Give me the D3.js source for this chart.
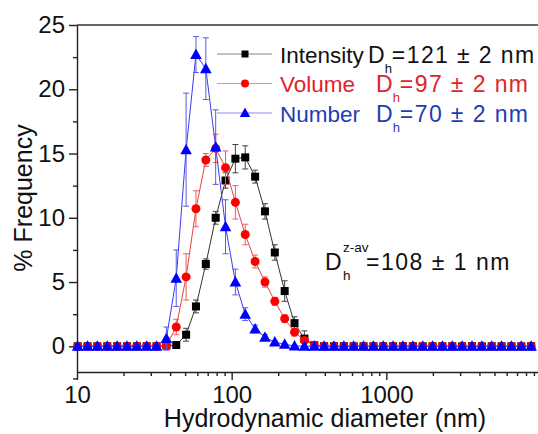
<!DOCTYPE html>
<html>
<head>
<meta charset="utf-8">
<script src="https://cdn.jsdelivr.net/npm/d3@7"></script>
<style>
  html, body { margin: 0; padding: 0; background: #fff; }
  svg { display: block; font-family: "Liberation Sans", Arial, sans-serif; }
  .axis path, .axis line { stroke: #222; stroke-width: 1.4; }
  .axis text { font-size: 24px; fill: #111; font-family: "Liberation Sans", Arial, sans-serif; }
</style>
</head>
<body>
<div id="chart"></div>
<script>
// size bins (nm)
const sizes = [10.1, 11.7, 13.54, 15.69, 18.17, 21.04, 24.36, 28.21, 32.67, 37.84, 43.82, 50.75, 58.77, 68.06,
  78.82, 91.28, 105.7, 122.4, 141.8, 164.2, 190.1, 220.2, 255.0, 295.3, 342.0, 396.1, 458.7, 531.2, 615.1,
  712.4, 825.0, 955.4, 1106, 1281, 1484, 1718, 1990, 2305, 2669, 3091, 3580, 4145, 4801, 5560, 6439, 7456, 8635];

const intensity = [0, 0, 0, 0, 0, 0, 0, 0, 0, 0.05, 0.1, 0.9, 3.1, 6.4, 10.0, 12.9, 14.6, 14.7, 13.2, 10.5, 7.3,
  4.3, 1.8, 0.6, 0.08, 0, 0, 0, 0, 0, 0, 0, 0, 0, 0, 0, 0, 0, 0, 0, 0, 0, 0, 0, 0, 0, 0];
const intensityErr = [0, 0, 0, 0, 0, 0, 0, 0, 0, 0.1, 0.2, 0.5, 0.5, 0.4, 0.5, 0.6, 1.1, 0.9, 0.5, 0.6, 0.6,
  0.8, 0.5, 0.6, 0.1, 0, 0, 0, 0, 0, 0, 0, 0, 0, 0, 0, 0, 0, 0, 0, 0, 0, 0, 0, 0, 0, 0];

const volume = [0, 0, 0, 0, 0, 0, 0, 0, 0, 0.05, 1.5, 5.4, 10.7, 14.5, 15.4, 13.9, 11.2, 8.7, 6.6, 5.0, 3.5,
  2.15, 1.1, 0.45, 0.08, 0, 0, 0, 0, 0, 0, 0, 0, 0, 0, 0, 0, 0, 0, 0, 0, 0, 0, 0, 0, 0, 0];
const volumeErr = [0, 0, 0, 0, 0, 0, 0, 0, 0, 0.2, 0.6, 1.8, 1.4, 0.5, 1.1, 1.3, 1.3, 0.8, 0.5, 0.4, 0.3,
  0.3, 0.3, 0.2, 0.1, 0, 0, 0, 0, 0, 0, 0, 0, 0, 0, 0, 0, 0, 0, 0, 0, 0, 0, 0, 0, 0, 0];

const number = [0, 0, 0, 0, 0, 0, 0, 0, 0, 0.6, 5.3, 15.3, 22.7, 21.6, 15.5, 9.3, 5.0, 2.5, 1.35, 0.7, 0.33,
  0.15, 0.03, 0, 0, 0, 0, 0, 0, 0, 0, 0, 0, 0, 0, 0, 0, 0, 0, 0, 0, 0, 0, 0, 0, 0, 0];
const numberErr = [0, 0, 0, 0, 0, 0, 0, 0, 0, 0.9, 2.2, 4.4, 1.4, 2.4, 2.9, 2.1, 1.0, 0.5, 0.3, 0.2, 0.1,
  0, 0, 0, 0, 0, 0, 0, 0, 0, 0, 0, 0, 0, 0, 0, 0, 0, 0, 0, 0, 0, 0, 0, 0, 0, 0];

const xTicks = [10, 100, 1000];
const yTicks = [0, 5, 10, 15, 20, 25];
const yMinor = [-2.5, 2.5, 7.5, 12.5, 17.5, 22.5];

const seriesNames = ["Intensity", "Volume", "Number"];
const seriesDh = ["121 ± 2 nm", "97 ± 2 nm", "70 ± 2 nm"];
const zAvText = "108 ± 1 nm";

const W = 538, H = 434;
const M = { top: 25, right: -3, bottom: 62, left: 77 };

const series = [
  { name: seriesNames[0], dh: seriesDh[0], vals: intensity, err: intensityErr, shape: "square",
    fill: "#000", line: "#333", bar: "#444", text: "#111" },
  { name: seriesNames[1], dh: seriesDh[1], vals: volume, err: volumeErr, shape: "circle",
    fill: "#ff0000", line: "#e84040", bar: "#ee5b5b", text: "#e0242a" },
  { name: seriesNames[2], dh: seriesDh[2], vals: number, err: numberErr, shape: "triangle",
    fill: "#0000ff", line: "#3b3bf0", bar: "#5a5ae8", text: "#1f3cb4" }
];

const svg = d3.select("#chart").append("svg").attr("width", W).attr("height", H);

const x = d3.scaleLog().domain([10, 10000]).range([M.left, W - M.right]);
const y = d3.scaleLinear().domain([-2, 25]).range([H - M.bottom, M.top]);

// minor ticks for the log axis
const xMinor = [];
[10, 100, 1000].forEach((dec) => { for (let k = 2; k <= 9; k++) xMinor.push(dec * k); });

svg.append("defs").append("clipPath").attr("id", "plotclip")
  .append("rect").attr("x", M.left - 8).attr("y", M.top - 10)
  .attr("width", W - M.left + 8).attr("height", H - M.bottom - M.top + 10);

// axes
const yBase = H - M.bottom;
const minX = svg.append("g").attr("class", "axis").attr("transform", `translate(0,${yBase})`)
  .call(d3.axisBottom(x).tickValues(xMinor).tickSize(4).tickFormat(""));
minX.select(".domain").remove();
minX.selectAll("text").remove();
svg.append("g").attr("class", "axis").attr("transform", `translate(0,${yBase})`)
  .call(d3.axisBottom(x).tickValues(xTicks).tickSize(8).tickSizeOuter(0).tickPadding(6).tickFormat(d3.format("d")));

const minY = svg.append("g").attr("class", "axis").attr("transform", `translate(${M.left},0)`)
  .call(d3.axisLeft(y).tickValues(yMinor).tickSize(4).tickFormat(""));
minY.select(".domain").remove();
minY.selectAll("text").remove();
svg.append("g").attr("class", "axis").attr("transform", `translate(${M.left},0)`)
  .call(d3.axisLeft(y).tickValues(yTicks).tickSize(8).tickSizeOuter(0).tickPadding(4));

// top frame line
svg.append("line").attr("x1", M.left).attr("x2", W).attr("y1", M.top).attr("y2", M.top)
  .attr("stroke", "#333").attr("stroke-width", 1.6);

svg.append("text").attr("x", 325).attr("y", 427).attr("text-anchor", "middle")
  .style("font-size", "25px").attr("fill", "#111").text("Hydrodynamic diameter (nm)");
svg.append("text").attr("transform", "translate(32,198) rotate(-90)").attr("text-anchor", "middle")
  .style("font-size", "25px").attr("fill", "#111").text("% Frequency");

function marker(g, shape, cx, cy, s, fill) {
  if (shape === "square") {
    g.append("rect").attr("x", cx - s / 2).attr("y", cy - s / 2).attr("width", s).attr("height", s).attr("fill", fill);
  } else if (shape === "circle") {
    g.append("circle").attr("cx", cx).attr("cy", cy).attr("r", s / 2 + 0.5).attr("fill", fill);
  } else {
    g.append("path").attr("d", `M${cx},${cy - s * 0.6}L${cx + s * 0.58},${cy + s * 0.45}L${cx - s * 0.58},${cy + s * 0.45}Z`)
      .attr("fill", fill);
  }
}

const plot = svg.append("g").attr("clip-path", "url(#plotclip)");

series.forEach((s) => {
  const g = plot.append("g");
  const pts = sizes.map((d, i) => ({ d, v: s.vals[i], e: s.err[i] }));

  g.append("path").datum(pts)
    .attr("d", d3.line().x((p) => x(p.d)).y((p) => y(p.v)))
    .attr("fill", "none").attr("stroke", s.line).attr("stroke-width", 1);

  pts.filter((p) => p.e > 0).forEach((p) => {
    const cx = x(p.d), y0 = y(p.v - p.e), y1 = y(p.v + p.e);
    g.append("path").attr("d", `M${cx},${y0}V${y1}M${cx - 3},${y0}H${cx + 3}M${cx - 3},${y1}H${cx + 3}`)
      .attr("fill", "none").attr("stroke", s.bar).attr("stroke-width", 1);
  });

  pts.forEach((p) => marker(g, s.shape, x(p.d), y(p.v), s.shape === "triangle" ? 10 : 8, s.fill));
});

// legend
const legY = [54, 83.5, 113];
series.forEach((s, i) => {
  const g = svg.append("g");
  g.append("line").attr("x1", 217).attr("x2", 272).attr("y1", legY[i]).attr("y2", legY[i])
    .attr("stroke", s.line).attr("stroke-opacity", 0.6).attr("stroke-width", 1);
  marker(g, s.shape, 245, legY[i], s.shape === "triangle" ? 9 : 7, s.fill);
  g.append("text").attr("x", 280).attr("y", legY[i] + 8.5).style("font-size", "22.5px")
    .attr("fill", s.text).text(s.name);
  const t = g.append("text").attr("x", i === 0 ? 368 : 376).attr("y", legY[i] + 8.5)
    .style("font-size", "23px").attr("fill", s.text);
  t.append("tspan").text("D");
  t.append("tspan").attr("dy", 10).style("font-size", "13px").text("h");
  t.append("tspan").attr("dy", -10).style("letter-spacing", "1.4px").text("=" + s.dh);
});

// z-average annotation
svg.append("text").attr("x", 325).attr("y", 270).style("font-size", "23px").attr("fill", "#111").text("D");
svg.append("text").attr("x", 343).attr("y", 252).style("font-size", "13.5px").attr("fill", "#111").text("z-av");
svg.append("text").attr("x", 343).attr("y", 280).style("font-size", "13.5px").attr("fill", "#111").text("h");
svg.append("text").attr("x", 366).attr("y", 270).style("font-size", "23px").style("letter-spacing", "1.5px")
  .attr("fill", "#111").text("=" + zAvText);
</script>
</body>
</html>
